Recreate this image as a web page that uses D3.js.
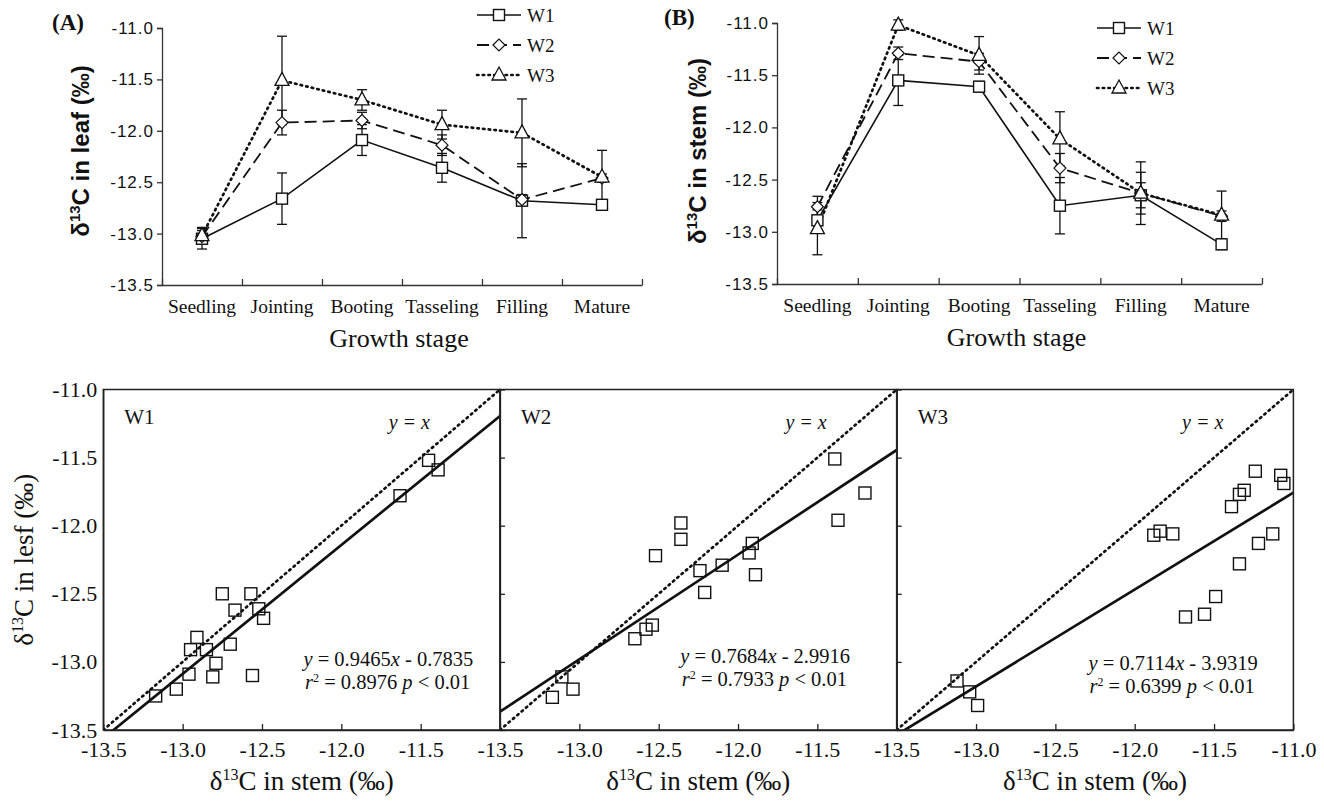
<!DOCTYPE html>
<html>
<head>
<meta charset="utf-8">
<script src="https://cdn.jsdelivr.net/npm/d3@7"></script>
<style>
  body { margin: 0; background: #fff; }
  text { font-family: "Liberation Serif", "Times New Roman", serif; fill: #111; }
</style>
</head>
<body>
<svg width="1324" height="805"></svg>
<script>
// growth stages
var stages = ["Seedling", "Jointing", "Booting", "Tasseling", "Filling", "Mature"]
var treatments = ["W1", "W2", "W3"]

// panel A: leaf d13C
var leafW1 = [-13.05, -12.66, -12.09, -12.36, -12.68, -12.72]
var leafW2 = [-13.03, -11.92, -11.90, -12.14, -12.67, -12.46]
var leafW3 = [-13.02, -11.51, -11.70, -11.94, -12.02, -12.45]
var leafErrW1 = [0.10, 0.25, 0.15, 0.14, 0.36, 0.05]
var leafErrW2 = [0.06, 0.12, 0.08, 0.10, 0.05, 0.04]
var leafErrW3 = [0.08, 0.43, 0.10, 0.14, 0.33, 0.26]

// panel B: stem d13C
var stemW1 = [-12.89, -11.55, -11.61, -12.75, -12.65, -13.12]
var stemW2 = [-12.76, -11.29, -11.37, -12.39, -12.63, -12.85]
var stemW3 = [-12.97, -11.02, -11.31, -12.11, -12.63, -12.84]
var stemErrW1 = [0.10, 0.24, 0.05, 0.27, 0.12, 0.05]
var stemErrW2 = [0.10, 0.06, 0.08, 0.14, 0.20, 0.05]
var stemErrW3 = [0.25, 0.05, 0.18, 0.26, 0.30, 0.23]

// scatter: stem (x) vs leaf (y)
var scatW1x = [-13.17, -13.04, -12.96, -12.95, -12.91, -12.85, -12.79, -12.81, -12.75, -12.70, -12.67, -12.57, -12.52, -12.49, -12.56, -11.63, -11.45, -11.39]
var scatW1y = [-13.25, -13.20, -13.09, -12.91, -12.82, -12.91, -13.01, -13.11, -12.50, -12.87, -12.62, -12.50, -12.61, -12.68, -13.10, -11.78, -11.52, -11.59]
var scatW2x = [-13.17, -13.11, -13.04, -12.65, -12.58, -12.54, -12.52, -12.36, -12.36, -12.24, -12.21, -12.10, -11.93, -11.91, -11.89, -11.39, -11.37, -11.20]
var scatW2y = [-13.26, -13.11, -13.20, -12.83, -12.76, -12.73, -12.22, -12.10, -11.98, -12.33, -12.49, -12.29, -12.20, -12.13, -12.36, -11.51, -11.96, -11.76]
var scatW3x = [-13.12, -13.04, -12.99, -11.88, -11.84, -11.76, -11.68, -11.56, -11.49, -11.34, -11.39, -11.34, -11.31, -11.24, -11.22, -11.13, -11.08, -11.06]
var scatW3y = [-13.14, -13.22, -13.32, -12.07, -12.04, -12.06, -12.67, -12.65, -12.52, -12.28, -11.86, -11.77, -11.74, -11.60, -12.13, -12.06, -11.63, -11.69]

var slopes = [0.9465, 0.7684, 0.7114]
var intercepts = [-0.7835, -2.9916, -3.9319]
var rsq = ["0.8976", "0.7933", "0.6399"]

var yTicks = [-11.0, -11.5, -12.0, -12.5, -13.0, -13.5]
var fmt = d => d.toFixed(1)

var SERIF = "Liberation Serif"
var SANS = "Liberation Sans"

var svg = d3.select("svg")

var lineStyles = {
    W1: {dash: null, width: 1.6},
    W2: {dash: "12,6", width: 1.8},
    W3: {dash: "1.5,4.2", width: 2.7}
}

function marker(g, type, x, y) {
    if (type == "W1") {
        g.append("rect").attr("x", x - 5.5).attr("y", y - 5.5).attr("width", 11).attr("height", 11)
            .attr("fill", "#fff").attr("stroke", "#111").attr("stroke-width", 1.4)
    } else if (type == "W2") {
        g.append("path").attr("d", `M${x - 6},${y}L${x},${y - 6}L${x + 6},${y}L${x},${y + 6}Z`)
            .attr("fill", "#fff").attr("stroke", "#111").attr("stroke-width", 1.2)
    } else {
        g.append("path").attr("d", `M${x},${y - 8}L${x + 7},${y + 5}L${x - 7},${y + 5}Z`)
            .attr("fill", "#fff").attr("stroke", "#111").attr("stroke-width", 1.3)
    }
}

function linePanel(opt) {
    var g = svg.append("g")
    var x = d3.scaleBand().domain(stages).range([opt.x0, opt.x1])
    var xi = d3.scaleLinear().domain([0, stages.length]).range([opt.x0, opt.x1])
    var y = d3.scaleLinear().domain([-13.5, -11.0]).range([opt.y1, opt.y0])

    // y axis
    var yAxis = g.append("g").attr("transform", `translate(${opt.x0},0)`)
        .call(d3.axisLeft(y).tickValues(yTicks).tickFormat(fmt).tickSize(5).tickPadding(3))
    yAxis.selectAll("text").style("font-size", "17px").style("font-family", SANS).style("letter-spacing", "1px")
    yAxis.selectAll("line,path").attr("stroke", "#333").attr("stroke-width", 1.3)

    // x axis, ticks inward at band edges
    var xAxis = g.append("g").attr("transform", `translate(0,${opt.y1})`)
        .call(d3.axisBottom(xi).tickValues(d3.range(stages.length + 1)).tickSize(-6).tickSizeOuter(0).tickFormat(""))
    xAxis.selectAll("line,path").attr("stroke", "#333").attr("stroke-width", 1.3)

    g.selectAll(".cat").data(stages).enter().append("text")
        .attr("x", d => x(d) + x.bandwidth() / 2).attr("y", opt.y1 + 28)
        .attr("text-anchor", "middle").style("font-family", SERIF).style("font-size", "19.5px").text(d => d)

    g.append("text").attr("x", (opt.x0 + opt.x1) / 2 - 3).attr("y", opt.y1 + 62)
        .attr("text-anchor", "middle").style("font-family", SERIF).style("font-size", "26px").text("Growth stage")

    // y title
    var yt = g.append("text").attr("transform", `translate(${opt.ylabX},151) rotate(-90)`)
        .attr("text-anchor", "middle").style("font-family", SANS)
        .style("font-size", "24px").style("font-weight", "bold")
    yt.append("tspan").text("\u03b4")
    yt.append("tspan").attr("dy", -9).style("font-size", "15px").text("13")
    yt.append("tspan").attr("dy", 9).text("C in " + opt.tissue + " (\u2030)")

    g.append("text").attr("x", opt.tagX).attr("y", opt.tagY).style("font-family", SERIF).style("font-size", "23px")
        .style("font-weight", "bold").text(opt.tag)

    var line = d3.line().x((d, i) => x(stages[i]) + x.bandwidth() / 2).y(d => y(d))

    treatments.forEach((t, k) => {
        var vals = opt.series[k]
        var errs = opt.errors[k]
        g.append("path").datum(vals).attr("d", line).attr("fill", "none")
            .attr("stroke", "#111").attr("stroke-width", lineStyles[t].width)
            .attr("stroke-dasharray", lineStyles[t].dash).attr("stroke-linecap", t == "W3" ? "round" : "butt")
        vals.forEach((v, i) => {
            var cx = x(stages[i]) + x.bandwidth() / 2
            g.append("line").attr("x1", cx).attr("x2", cx).attr("y1", y(v - errs[i])).attr("y2", y(v + errs[i]))
                .attr("stroke", "#111").attr("stroke-width", 1.3)
            ;[v - errs[i], v + errs[i]].forEach(e => {
                g.append("line").attr("x1", cx - 5).attr("x2", cx + 5).attr("y1", y(e)).attr("y2", y(e))
                    .attr("stroke", "#111").attr("stroke-width", 1.3)
            })
        })
    })
    treatments.forEach((t, k) => {
        opt.series[k].forEach((v, i) => marker(g, t, x(stages[i]) + x.bandwidth() / 2, y(v)))
    })

    // legend
    treatments.forEach((t, k) => {
        var ly = opt.legY + k * 30
        g.append("line").attr("x1", opt.legX).attr("x2", opt.legX + 44).attr("y1", ly).attr("y2", ly)
            .attr("stroke", "#111").attr("stroke-width", lineStyles[t].width)
            .attr("stroke-dasharray", lineStyles[t].dash).attr("stroke-linecap", t == "W3" ? "round" : "butt")
        marker(g, t, opt.legX + 22, ly)
        g.append("text").attr("x", opt.legX + 50).attr("y", ly + 7).style("font-family", SERIF)
            .style("font-size", "19px").text(t)
    })
}

linePanel({x0: 162, x1: 642, y0: 28, y1: 285, tissue: "leaf", ylabX: 89, tag: "(A)", tagX: 52, tagY: 30,
    legX: 477, legY: 15, series: [leafW1, leafW2, leafW3], errors: [leafErrW1, leafErrW2, leafErrW3]})
linePanel({x0: 777, x1: 1262, y0: 23, y1: 284, tissue: "stem", ylabX: 706, tag: "(B)", tagX: 664, tagY: 25,
    legX: 1097, legY: 28, series: [stemW1, stemW2, stemW3], errors: [stemErrW1, stemErrW2, stemErrW3]})

// bottom scatter panels
var panelW = 396.7
var by0 = 389.5, by1 = 730
var ys = d3.scaleLinear().domain([-13.5, -11.0]).range([by1, by0])
var scatX = [scatW1x, scatW2x, scatW3x]
var scatY = [scatW1y, scatW2y, scatW3y]

treatments.forEach((t, k) => {
    var x0 = 103.3 + k * panelW, x1 = x0 + panelW
    var xs = d3.scaleLinear().domain([-13.5, -11.0]).range([x0, x1])
    var g = svg.append("g")

    g.append("clipPath").attr("id", "clip" + k).append("rect")
        .attr("x", x0).attr("y", by0).attr("width", panelW).attr("height", by1 - by0)

    // y = x
    g.append("line").attr("clip-path", `url(#clip${k})`)
        .attr("x1", xs(-13.5)).attr("y1", ys(-13.5)).attr("x2", xs(-11.0)).attr("y2", ys(-11.0))
        .attr("stroke", "#111").attr("stroke-width", 2.7).attr("stroke-dasharray", "1.5,4.2").attr("stroke-linecap", "round")
    // regression
    g.append("line").attr("clip-path", `url(#clip${k})`)
        .attr("x1", xs(-13.7)).attr("y1", ys(slopes[k] * -13.7 + intercepts[k]))
        .attr("x2", xs(-11.0)).attr("y2", ys(slopes[k] * -11.0 + intercepts[k]))
        .attr("stroke", "#111").attr("stroke-width", 2.7)

    scatX[k].forEach((v, i) => {
        g.append("rect").attr("x", xs(v) - 6).attr("y", ys(scatY[k][i]) - 6).attr("width", 12).attr("height", 12)
            .attr("fill", "none").attr("stroke", "#111").attr("stroke-width", 1.4)
    })

    // x axis: ticks inward
    var xTickVals = k == 2 ? [-13.5, -13.0, -12.5, -12.0, -11.5, -11.0] : [-13.5, -13.0, -12.5, -12.0, -11.5]
    var xa = g.append("g").attr("transform", `translate(0,${by1})`)
        .call(d3.axisBottom(xs).tickValues(xTickVals).tickFormat(fmt).tickSize(-6).tickSizeOuter(0).tickPadding(11))
    xa.selectAll("text").style("font-size", "22px").style("font-family", SERIF)
    xa.selectAll("line,path").attr("stroke", "#222").attr("stroke-width", 1.3)

    // y axis
    if (k == 0) {
        var ya = g.append("g").attr("transform", `translate(${x0},0)`)
            .call(d3.axisLeft(ys).tickValues(yTicks).tickFormat(fmt).tickSize(0).tickPadding(6))
        ya.selectAll("text").style("font-size", "22px").style("font-family", SERIF)
        ya.selectAll("line,path").attr("stroke", "#222").attr("stroke-width", 1.3)
    } else {
        var ya2 = g.append("g").attr("transform", `translate(${x0},0)`)
            .call(d3.axisRight(ys).tickValues(yTicks).tickSize(5).tickSizeOuter(0).tickFormat(""))
        ya2.selectAll("line,path").attr("stroke", "#222").attr("stroke-width", 1.3)
    }

    // frame
    g.append("rect").attr("x", x0).attr("y", by0).attr("width", panelW).attr("height", by1 - by0)
        .attr("fill", "none").attr("stroke", "#222").attr("stroke-width", 1.5)

    g.append("text").attr("x", x0 + 21).attr("y", by0 + 34).style("font-family", SERIF).style("font-size", "21px").text(t)

    g.append("text").attr("x", x0 + 306).attr("y", by0 + 39).attr("text-anchor", "middle")
        .style("font-family", SERIF).style("font-size", "20px").style("font-style", "italic").text("y = x")

    var eqX = [370, 350, 361][k]
    var eqY = [by0 + 276, by0 + 273, by0 + 280][k]
    var eq = g.append("text").attr("x", x0 + eqX).attr("y", eqY).attr("text-anchor", "end")
        .style("font-family", SERIF).style("font-size", "20.5px")
    eq.append("tspan").style("font-style", "italic").text("y")
    eq.append("tspan").text(" = " + slopes[k].toFixed(4))
    eq.append("tspan").style("font-style", "italic").text("x")
    eq.append("tspan").text(" - " + Math.abs(intercepts[k]).toFixed(4))

    var r = g.append("text").attr("x", x0 + eqX - 3).attr("y", eqY + 23).attr("text-anchor", "end")
        .style("font-family", SERIF).style("font-size", "20.5px")
    r.append("tspan").style("font-style", "italic").text("r")
    r.append("tspan").attr("dy", -7).style("font-size", "12px").text("2")
    r.append("tspan").attr("dy", 7).text(" = " + rsq[k] + " ")
    r.append("tspan").style("font-style", "italic").text("p")
    r.append("tspan").text(" < 0.01")

    var xl = g.append("text").attr("x", (x0 + x1) / 2).attr("y", 790).attr("text-anchor", "middle")
        .style("font-family", SERIF).style("font-size", "27px")
    xl.append("tspan").text("\u03b4")
    xl.append("tspan").attr("dy", -10).style("font-size", "16px").text("13")
    xl.append("tspan").attr("dy", 10).text("C in stem (\u2030)")
})

var yl = svg.append("text").attr("transform", `translate(33,${(by0 + by1) / 2}) rotate(-90)`)
    .attr("text-anchor", "middle").style("font-family", SERIF).style("font-size", "27px")
yl.append("tspan").text("\u03b4")
yl.append("tspan").attr("dy", -10).style("font-size", "16px").text("13")
yl.append("tspan").attr("dy", 10).text("C in lesf (\u2030)")
</script>
</body>
</html>
